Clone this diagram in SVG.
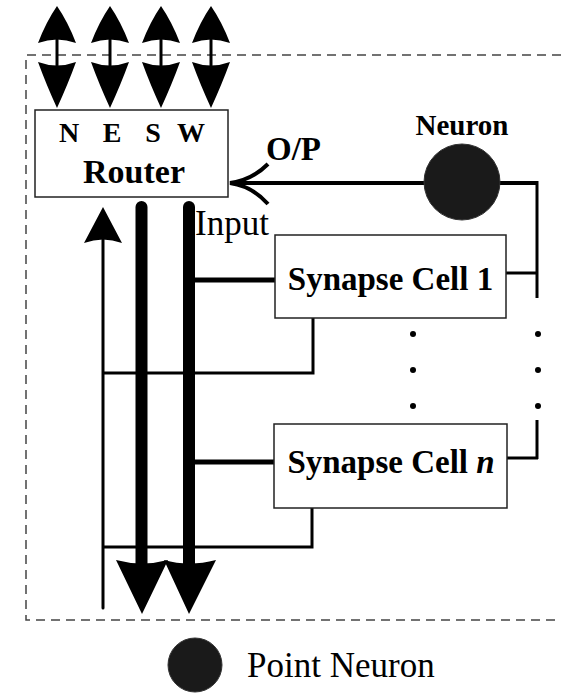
<svg xmlns="http://www.w3.org/2000/svg" width="561" height="695" viewBox="0 0 561 695">
<style>
.box{fill:#fff;stroke:#222;stroke-width:1.5}
.b{font-family:"Liberation Serif","Times New Roman",serif;font-weight:bold;fill:#000}
.r{font-family:"Liberation Serif","Times New Roman",serif;fill:#000}
.thin{stroke:#000;stroke-width:3;fill:none}
.thick{stroke:#000;stroke-width:12;stroke-linecap:round;fill:none}
.bus{stroke:#000;stroke-width:5;fill:none}
.head{fill:#000}
</style>
<rect width="561" height="695" fill="#fff"/>
<path d="M561,55 H26 V620 H561" fill="none" stroke="#444" stroke-width="1.5" stroke-dasharray="9 6"/>
<g id="connectors">
  <g>
    <line x1="57" y1="20" x2="57" y2="95" class="thin"/>
    <path class="head" d="M57,6 Q68,22 76,43 Q57,36 38,43 Q46,22 57,6 Z M57,108 Q68,84 76,62 Q57,69 38,62 Q46,84 57,108 Z"/>
    <line x1="110" y1="20" x2="110" y2="95" class="thin"/>
    <path class="head" d="M110,6 Q121,22 129,43 Q110,36 91,43 Q99,22 110,6 Z M110,108 Q121,84 129,62 Q110,69 91,62 Q99,84 110,108 Z"/>
    <line x1="161" y1="20" x2="161" y2="95" class="thin"/>
    <path class="head" d="M161,6 Q172,22 180,43 Q161,36 142,43 Q150,22 161,6 Z M161,108 Q172,84 180,62 Q161,69 142,62 Q150,84 161,108 Z"/>
    <line x1="211" y1="20" x2="211" y2="95" class="thin"/>
    <path class="head" d="M211,6 Q222,22 230,43 Q211,36 192,43 Q200,22 211,6 Z M211,108 Q222,84 230,62 Q211,69 192,62 Q200,84 211,108 Z"/>
  </g>
  <line x1="230" y1="183" x2="537" y2="183" stroke="#000" stroke-width="4"/>
  <path d="M268,164 Q252,180 230,183 Q252,186 268,204" fill="none" stroke="#000" stroke-width="4"/>
  <line x1="537" y1="181" x2="537" y2="298" class="thin"/>
  <line x1="506" y1="273" x2="538" y2="273" class="thin"/>
  <line x1="507" y1="458" x2="538" y2="458" class="thin"/>
  <line x1="537" y1="420" x2="537" y2="459" class="thin"/>
  <line x1="103" y1="235" x2="103" y2="608" class="thin" stroke-linecap="round"/>
  <path class="head" d="M103,207 L122,243 Q103,236 84,243 Z"/>
  <path d="M313,318 V373 H103" class="thin"/>
  <path d="M312,508 V547 H103" class="thin"/>
  <line x1="141.5" y1="207" x2="141.5" y2="568" class="thick"/>
  <line x1="189" y1="207" x2="189" y2="568" class="thick"/>
  <path class="head" d="M142,614 L168,560 Q142,567 116,560 Z"/>
  <path class="head" d="M189,614 L216,560 Q189,567 164,560 Z"/>
  <line x1="189" y1="280" x2="275" y2="280" class="bus"/>
  <line x1="189" y1="462" x2="274" y2="462" class="bus"/>
  <g fill="#000">
    <circle cx="413" cy="334" r="3"/><circle cx="413" cy="370" r="3"/><circle cx="413" cy="406" r="3"/>
    <circle cx="538" cy="334" r="3"/><circle cx="538" cy="370" r="3"/><circle cx="538" cy="406" r="3"/>
  </g>
</g>
<g id="router">
  <rect x="35" y="110" width="193" height="87" class="box"/>
  <text class="b" font-size="28" x="69" y="142" text-anchor="middle">N</text>
  <text class="b" font-size="28" x="112" y="142" text-anchor="middle">E</text>
  <text class="b" font-size="28" x="153" y="142" text-anchor="middle">S</text>
  <text class="b" font-size="28" x="191" y="142" text-anchor="middle">W</text>
  <text class="b" font-size="34" x="134" y="183" text-anchor="middle">Router</text>
</g>
<g id="op-label"><text class="b" font-size="33" x="266" y="160">O/P</text></g>
<g id="input-label"><text class="r" font-size="35" x="195" y="235">Input</text></g>
<g id="neuron">
  <circle cx="462" cy="182" r="38" fill="#1a1a1a" stroke="#333" stroke-width="1"/>
  <text class="b" font-size="29" x="462" y="135" text-anchor="middle">Neuron</text>
</g>
<g id="synapse1">
  <rect x="275" y="235" width="231" height="83" class="box"/>
  <text class="b" font-size="33" x="390.5" y="290" text-anchor="middle">Synapse Cell 1</text>
</g>
<g id="synapsen">
  <rect x="274" y="424" width="233" height="84" class="box"/>
  <text class="b" font-size="33" x="391" y="473" text-anchor="middle">Synapse Cell <tspan font-style="italic">n</tspan></text>
</g>
<g id="legend">
  <circle cx="195" cy="665" r="27" fill="#1a1a1a" stroke="#333" stroke-width="1"/>
  <text class="r" font-size="35" x="247" y="677">Point Neuron</text>
</g>
</svg>
